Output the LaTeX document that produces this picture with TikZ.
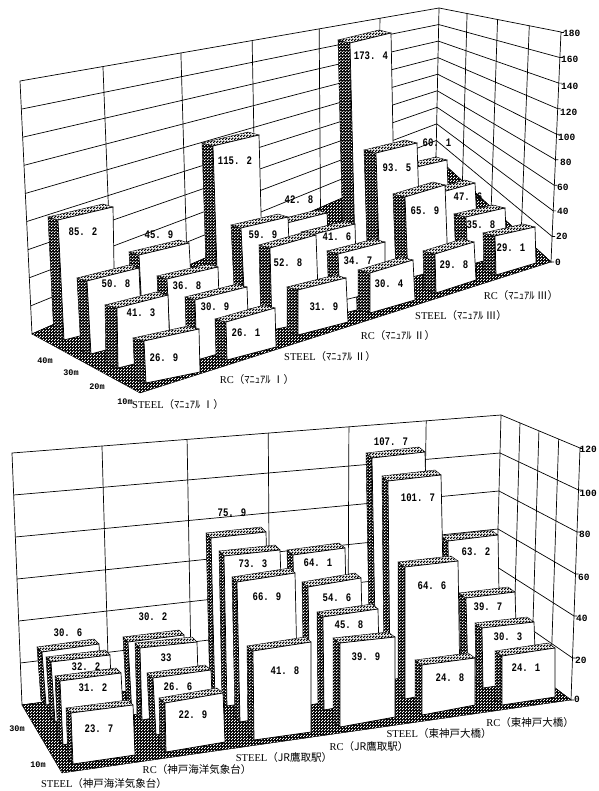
\documentclass[tikz,border=0pt]{standalone}
\usepackage{fontspec}
\setmainfont{Liberation Serif}
\setmonofont{Liberation Mono}
\newfontfamily\valfont[FakeStretch=0.78]{Liberation Mono}
\newfontfamily\jpfont{Noto Sans CJK JP}
\usetikzlibrary{calc,patterns}
\newcounter{barno}
% tramas
\pgfdeclarepatternformonly{lightchecks}{\pgfqpoint{0pt}{0pt}}{\pgfqpoint{3pt}{3pt}}{\pgfqpoint{3pt}{3pt}}{
	\pgfpathrectangle{\pgfqpoint{0pt}{0pt}}{\pgfqpoint{1.7pt}{1.7pt}}
	\pgfpathrectangle{\pgfqpoint{1.5pt}{1.5pt}}{\pgfqpoint{1.5pt}{1.5pt}}
	\pgfusepath{fill}}
\pgfdeclarepatternformonly{smallchecks}{\pgfqpoint{0pt}{0pt}}{\pgfqpoint{3pt}{3pt}}{\pgfqpoint{3pt}{3pt}}{
	\pgfpathrectangle{\pgfqpoint{0.1pt}{0.1pt}}{\pgfqpoint{1.3pt}{1.3pt}}
	\pgfpathrectangle{\pgfqpoint{1.6pt}{1.6pt}}{\pgfqpoint{1.3pt}{1.3pt}}
	\pgfusepath{fill}}
% paredes y suelo
\newcommand{\walls}[3]{
	\draw [wall] (lt) -- (bt) -- (rt) -- (rb) -- (bb) -- (lb) -- cycle;
	\draw [wall] (bt) -- (bb);
	\foreach \k in {1,...,#1} {
		\draw [wall] ($(lt)!\k/#1!(lb)$) -- ($(bt)!\k/#1!(bb)$) -- ($(rt)!\k/#1!(rb)$) -- ++(3,0);
	}
	\draw [wall] (rt) -- ++(3,0);
	\foreach \pos in {#2} {\draw [wall] ($(lt)!\pos!(bt)$) -- ($(lb)!\pos!(bb)$);}
	\foreach \pos in {#3} {\draw [wall] ($(bt)!\pos!(rt)$) -- ($(bb)!\pos!(rb)$);}
	\path [darkface] (lb) -- (bb) -- (rb) -- (ft) -- cycle;
}
% barra: sup. izq., sup. der., inf. der., inf. izq., fondo, rotulo, valor
\newcommand{\pbar}[7]{
	\stepcounter{barno}
	\path [darkface] (#1) -- (#4) -- ($(#4)+(#5)$) -- ($(#1)+(#5)$) -- cycle;
	\path [topface] (#1) -- (#2) -- ($(#2)+(#5)$) -- ($(#1)+(#5)$) -- cycle;
	\draw [frontface] (#1) -- (#2) -- (#3) -- (#4) -- cycle;
	\node [barvalue] (val\arabic{barno}) at (#6) {#7};
}
\begin{document}
\begin{tikzpicture}[x=1pt,y=-1pt]
	% formatos
	\tikzstyle{wall} = [line width=0.7pt]
	\tikzstyle{frontface} = [fill=white, line width=0.7pt]
	\tikzstyle{darkface} = [preaction={fill=black}, pattern=smallchecks, pattern color=white, draw=black, line width=0.4pt]
	\tikzstyle{topface} = [preaction={fill=white}, pattern=lightchecks, pattern color=black, draw=black, line width=0.4pt]
	\tikzstyle{barvalue} = [font=\valfont\bfseries\fontsize{11.5}{12}\selectfont, inner sep=0pt]
	\tikzstyle{scalenum} = [font=\ttfamily\bfseries\fontsize{9.5}{10}\selectfont, inner sep=0pt, anchor=west]
	\tikzstyle{depthnum} = [font=\ttfamily\bfseries\fontsize{8.5}{9}\selectfont, inner sep=0pt]
	\tikzstyle{casename} = [font=\fontsize{10.5}{11}\selectfont, inner sep=0pt]
	\useasboundingbox (0,0) rectangle (598,791);

	% grafico superior
	\coordinate (lt) at (20,81);
	\coordinate (lb) at (32,334);
	\coordinate (bt) at (439,8);
	\coordinate (bb) at (436,157);
	\coordinate (rt) at (561,32);
	\coordinate (rb) at (551,262);
	\coordinate (ft) at (140,393);
	\walls{9}{.198,.384,.554,.714,.859}{.23,.48,.74}
	% fila 40m
	\pbar{58,220}{113,207}{115,327}{64,340}{-10,-3}{83,232}{85. 2}
	\pbar{139,255}{189,243}{193,315}{143,330}{-10,-3}{159,235}{45. 9}
	\pbar{213,146}{259,135}{263,290}{218,300}{-11,-3}{235,161}{115. 2}
	\pbar{283,224}{327,213}{330,270}{286,280}{-10,-3}{299,200}{42. 8}
	\pbar{350,43}{391,33}{395,240}{355,250}{-12,-3}{371,56}{173. 4}
	\pbar{404,170}{447,160}{450,240}{408,255}{-11,-3}{437,143}{60. 1}
	% fila 30m
	\pbar{87,281}{139,268}{142,340}{91,354}{-10,-3}{116,284}{50. 8}
	\pbar{167,279}{218,267}{220,330}{170,343}{-10,-3}{187,286}{36. 8}
	\pbar{241,228}{288,217}{291,300}{245,310}{-10,-3}{263,235}{59. 9}
	\pbar{311,235}{355,224}{357,310}{313,320}{-10,-3}{337,237}{41. 6}
	\pbar{376,153}{417,143}{420,235}{380,280}{-12,-3}{397,168}{93. 5}
	\pbar{435,194}{475,183}{478,245}{438,257}{-10,-3}{468,197}{47. 6}
	% fila 20m
	\pbar{117,308}{168,295}{170,355}{118,368}{-12,-3}{141,313}{41. 3}
	\pbar{195,300}{247,287}{249,345}{197,360}{-10,-3}{215,307}{30. 9}
	\pbar{270,248}{316,235}{319,320}{272,330}{-11,-3}{288,263}{52. 8}
	\pbar{338,254}{385,242}{385,290}{340,301}{-11,-3}{358,261}{34. 7}
	\pbar{405,197}{445,185}{448,268}{408,278}{-12,-3}{425,211}{65. 9}
	\pbar{466,217}{505,208}{507,255}{468,265}{-12,-3}{481,225}{35. 8}
	% fila 10m
	\pbar{144,341}{199,329}{200,372}{146,383}{-11,-3}{164,358}{26. 9}
	\pbar{226,322}{275,308}{276,347}{227,360}{-11,-3}{246,333}{26. 1}
	\pbar{298,290}{346,278}{348,322}{298,335}{-11,-3}{324,307}{31. 9}
	\pbar{370,273}{413,260}{415,300}{370,313}{-12,-3}{389,284}{30. 4}
	\pbar{435,254}{474,242}{476,280}{436,293}{-12,-3}{454,265}{29. 8}
	\pbar{495,236}{535,227}{536,263}{496,275}{-12,-3}{511,248}{29. 1}
	% escalas
	\foreach \val/\px/\py in {180/563/33,160/561/59,140/561/86,120/560/112,100/558/137,80/560/162,60/557/187,40/557/211,20/556/236,0/555/262}
		\node [scalenum] (sa\val) at (\px,\py) {\val};
	\foreach \val/\px/\py in {40/45/361,30/71/373,20/97/387,10/125/402}
		\node [depthnum] (da\val) at (\px,\py) {\val m};
	\node [casename] (ca1) at (178,405) {STEEL{\jpfont（ﾏﾆｭｱﾙ Ⅰ）}};
	\node [casename] (ca2) at (257,380) {RC{\jpfont（ﾏﾆｭｱﾙ Ⅰ）}};
	\node [casename] (ca3) at (330,357) {STEEL{\jpfont（ﾏﾆｭｱﾙ Ⅱ）}};
	\node [casename] (ca4) at (398,336) {RC{\jpfont（ﾏﾆｭｱﾙ Ⅱ）}};
	\node [casename] (ca5) at (461,316) {STEEL{\jpfont（ﾏﾆｭｱﾙ Ⅲ）}};
	\node [casename] (ca6) at (521,296) {RC{\jpfont（ﾏﾆｭｱﾙ Ⅲ）}};

	% grafico inferior
	\coordinate (lt) at (12,453);
	\coordinate (lb) at (22,705);
	\coordinate (bt) at (501,415);
	\coordinate (bb) at (495,643);
	\coordinate (rt) at (580,448);
	\coordinate (rb) at (571,700);
	\coordinate (ft) at (62,773);
	\walls{6}{.184,.358,.524,.689,.847}{.24,.48,.73}
	% fila de fondo
	\pbar{42,652}{99,644}{102,695}{46,705}{-5,-5}{68,633}{30. 6}
	\pbar{128,642}{184,635}{188,705}{132,715}{-5,-5}{153,617}{30. 2}
	\pbar{211,538}{266,532}{270,695}{215,700}{-5,-5}{232,513}{75. 9}
	\pbar{293,555}{345,548}{348,690}{296,700}{-6,-5}{318,563}{64. 1}
	\pbar{372,458}{425,452}{430,670}{376,680}{-6,-5}{391,442}{107. 7}
	\pbar{448,541}{498,535}{500,650}{450,665}{-7,-5}{476,552}{63. 2}
	% segunda fila
	\pbar{51,662}{110,655}{112,705}{55,722}{-5,-5}{86,667}{32. 2}
	\pbar{140,648}{197,642}{199,710}{142,720}{-5,-5}{166,658}{33}
	\pbar{224,556}{280,550}{285,697}{227,706}{-5,-5}{253,564}{73. 3}
	\pbar{308,587}{361,578}{364,695}{310,705}{-6,-5}{337,598}{54. 6}
	\pbar{388,481}{441,475}{445,670}{390,680}{-6,-5}{418,498}{101. 7}
	\pbar{466,598}{515,592}{517,660}{468,680}{-7,-5}{488,607}{39. 7}
	% tercera fila
	\pbar{60,681}{121,673}{124,730}{63,745}{-5,-5}{93,688}{31. 2}
	\pbar{153,678}{211,670}{213,722}{156,735}{-6,-5}{178,687}{26. 6}
	\pbar{237,582}{295,573}{298,712}{240,722}{-5,-5}{267,597}{66. 9}
	\pbar{323,617}{378,609}{380,700}{324,710}{-6,-5}{349,625}{45. 8}
	\pbar{405,567}{458,561}{460,688}{405,699}{-7,-5}{432,586}{64. 6}
	\pbar{482,628}{534,622}{536,680}{483,688}{-7,-5}{508,637}{30. 3}
	% fila 10m
	\pbar{71,713}{133,705}{135,755}{73,764}{-5,-5}{99,729}{23. 7}
	\pbar{165,703}{223,693}{225,742}{166,752}{-6,-5}{193,715}{22. 9}
	\pbar{253,651}{311,642}{311,732}{254,740}{-6,-5}{285,671}{41. 8}
	\pbar{340,643}{395,637}{395,717}{340,727}{-7,-5}{366,657}{39. 9}
	\pbar{422,665}{475,658}{475,705}{422,715}{-7,-5}{450,678}{24. 8}
	\pbar{502,656}{555,648}{555,697}{502,705}{-7,-5}{526,668}{24. 1}
	% escalas
	\foreach \val/\px/\py in {120/579.5/449,100/579.5/493,80/579/534,60/578/577,40/576/618,20/575/660,0/574/699}
		\node [scalenum] (sb\val) at (\px,\py) {\val};
	\foreach \val/\px/\py in {30/17/729,10/38/765}
		\node [depthnum] (db\val) at (\px,\py) {\val m};
	\node [casename] (cb1) at (104,783) {STEEL{\jpfont（神戸海洋気象台）}};
	\node [casename] (cb2) at (197,770) {RC{\jpfont（神戸海洋気象台）}};
	\node [casename] (cb3) at (284,758) {STEEL{\jpfont（JR鷹取駅）}};
	\node [casename] (cb4) at (369,747) {RC{\jpfont（JR鷹取駅）}};
	\node [casename] (cb5) at (439,734) {STEEL{\jpfont（東神戸大橋）}};
	\node [casename] (cb6) at (530,723) {RC{\jpfont（東神戸大橋）}};
\end{tikzpicture}
\end{document}
